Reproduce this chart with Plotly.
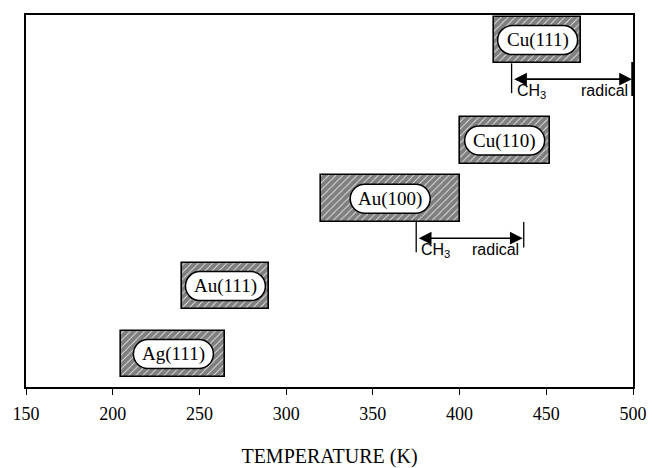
import plotly.graph_objects as go

# ---- data ----
surfaces = ["Ag(111)", "Au(111)", "Au(100)", "Cu(110)", "Cu(111)"]
t_start = [205, 240, 320, 400, 420]        # K
t_end = [265, 290, 400, 452, 470]          # K
row_level = [0.71, 2.17, 4.05, 5.30, 7.46]  # vertical placement (arbitrary units)

# CH3 radical ranges (attached to Au(100) and Cu(111))
radical_surface = ["Au(100)", "Cu(111)"]
radical_start = [375, 430]
radical_end = [437, 500]
radical_level = [3.20, 6.62]

x_ticks = [150, 200, 250, 300, 350, 400, 450, 500]

BOX_H = 1.0
SERIF = "Liberation Serif, Times New Roman, serif"
SANS = "Liberation Sans, Arial, sans-serif"

fig = go.Figure()

fig.add_trace(go.Bar(
    orientation="h",
    y=row_level,
    x=[e - s for s, e in zip(t_start, t_end)],
    base=t_start,
    width=BOX_H,
    marker=dict(
        color="white",
        line=dict(color="black", width=1.6),
        pattern=dict(shape="/", fgcolor="black", bgcolor="white",
                     size=5, solidity=0.85, fillmode="overlay"),
    ),
    hoverinfo="skip",
    showlegend=False,
))

# white rounded "pill" label backgrounds (pixel-sized, anchored at box centre)
w, h = 80, 29
r = h / 2
a = w / 2 - r
k = 0.5523 * r
pill = (f"M {-a},{r} L {a},{r} C {a+k},{r} {a+r},{k} {a+r},0 "
        f"C {a+r},{-k} {a+k},{-r} {a},{-r} L {-a},{-r} "
        f"C {-a-k},{-r} {-a-r},{-k} {-a-r},0 C {-a-r},{k} {-a-k},{r} {-a},{r} Z")

for name, s, e, yl in zip(surfaces, t_start, t_end, row_level):
    cx = (s + e) / 2
    fig.add_shape(type="path", path=pill, xsizemode="pixel", ysizemode="pixel",
                  xanchor=cx, yanchor=yl, xref="x", yref="y",
                  fillcolor="white", line=dict(color="black", width=1.5),
                  layer="above")
    fig.add_annotation(x=cx, y=yl, text=name, showarrow=False,
                       font=dict(family=SERIF, size=19, color="black"))

# CH3 radical arrows
for surf, s, e, yl in zip(radical_surface, radical_start, radical_end, radical_level):
    box_bottom = row_level[surfaces.index(surf)] - BOX_H / 2
    fig.add_annotation(x=e, y=yl, ax=s, ay=yl, xref="x", yref="y",
                       axref="x", ayref="y", text="", showarrow=True,
                       arrowside="end+start", arrowhead=2, arrowsize=1.6,
                       arrowwidth=1.6, arrowcolor="black", standoff=1, startstandoff=1)
    # left bar
    fig.add_shape(type="line", x0=s, x1=s, y0=box_bottom, y1=yl - 0.3,
                  xref="x", yref="y", line=dict(color="black", width=1.3))
    # right bar
    thick = 3.5 if e >= x_ticks[-1] else 1.3
    fig.add_shape(type="line", x0=e, x1=e, y0=yl + (0.37 if thick > 2 else 0.35),
                  y1=yl - (0.36 if thick > 2 else 0.2),
                  xref="x", yref="y", line=dict(color="black", width=thick))
    fig.add_annotation(x=s, y=yl, xanchor="left", yanchor="middle", yshift=-12,
                       xshift=3, text="CH<sub>3</sub>", showarrow=False,
                       font=dict(family=SANS, size=16, color="black"))
    fig.add_annotation(x=e, y=yl, xanchor="right", yanchor="middle", yshift=-11,
                       xshift=-3, text="radical", showarrow=False,
                       font=dict(family=SANS, size=16, color="black"))

fig.update_layout(
    width=652, height=468,
    margin=dict(l=26, r=19, t=15, b=81, autoexpand=False),
    paper_bgcolor="white", plot_bgcolor="white",
    bargap=0,
    xaxis=dict(range=[150, 500], tickvals=x_ticks,
               ticktext=[str(t) for t in x_ticks],
               automargin=False,
               showgrid=False, zeroline=False,
               showline=True, mirror=True, linecolor="black", linewidth=1.5,
               ticks="outside", ticklen=6, tickwidth=1.3, tickcolor="black",
               ticklabelstandoff=4,
               tickfont=dict(family=SERIF, size=18, color="black"),
               title=dict(text="TEMPERATURE (K)", standoff=26,
                          font=dict(family=SERIF, size=20, color="black"))),
    yaxis=dict(range=[0, 8], showgrid=False, zeroline=False, automargin=False,
               showticklabels=False, showline=True, mirror=True,
               linecolor="black", linewidth=1.5),
)

# remove the page's default body margin / scrollbars so the figure fills the window
fig.write_html("out.html",
               config={"displayModeBar": False},
               post_script="document.body.style.margin='0';"
                           "document.body.style.overflow='hidden';")
